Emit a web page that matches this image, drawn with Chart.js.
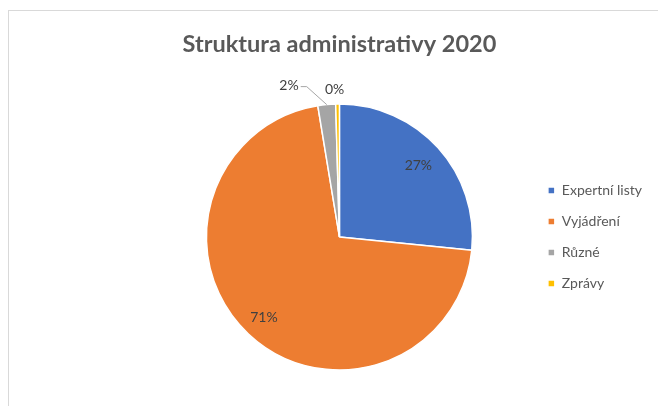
<!DOCTYPE html>
<html>
<head>
<meta charset="utf-8">
<script src="https://cdn.jsdelivr.net/npm/chart.js@4.4.0/dist/chart.umd.min.js"></script>
<style>
html,body{margin:0;padding:0;background:#fff;}
#wrap{width:658px;height:406px;position:relative;}
</style>
</head>
<body>
<div id="wrap"><canvas id="c"></canvas></div>
<script>
const titleText = 'Struktura administrativy 2020';
const categories = ['Expertní listy', 'Vyjádření', 'Různé', 'Zprávy'];
const values = [26.6, 70.8, 2.15, 0.45];
const colors = ['#4472C4', '#ED7D31', '#A5A5A5', '#FFC000'];

const framePlugin = {
  id: 'frame',
  beforeDraw(chart) {
    const ctx = chart.ctx;
    ctx.save();
    ctx.fillStyle = '#fff';
    ctx.fillRect(0, 0, chart.width, chart.height);
    ctx.strokeStyle = '#D9D9D9';
    ctx.lineWidth = 1;
    ctx.strokeRect(8.5, 10.5, 800, 600);
    ctx.restore();
  }
};

const labelPlugin = {
  id: 'sliceLabels',
  afterDatasetsDraw(chart, args, opts) {
    const ctx = chart.ctx;
    const meta = chart.getDatasetMeta(0);
    const data = chart.data.datasets[0].data;
    const total = data.reduce((a, b) => a + b, 0);
    ctx.save();
    ctx.font = opts.font;
    ctx.fillStyle = opts.color;
    ctx.textBaseline = 'middle';
    meta.data.forEach((arc, i) => {
      const p = arc.getProps(['x', 'y', 'startAngle', 'endAngle', 'outerRadius'], true);
      const mid = (p.startAngle + p.endAngle) / 2;
      const txt = Math.round(data[i] / total * 100) + '%';
      const pl = opts.placements[i];
      if (pl.inside) {
        const r = p.outerRadius * pl.r;
        ctx.textAlign = 'center';
        ctx.fillText(txt, p.x + Math.cos(mid) * r, p.y + Math.sin(mid) * r);
      } else {
        const ax = p.x + Math.cos(mid) * p.outerRadius;
        const ay = p.y + Math.sin(mid) * p.outerRadius;
        if (pl.leader) {
          ctx.save();
          ctx.strokeStyle = '#A6A6A6';
          ctx.lineWidth = 1;
          ctx.beginPath();
          ctx.moveTo(ax, ay);
          ctx.lineTo(ax + pl.leader[0], ay + pl.leader[1]);
          ctx.lineTo(ax + pl.leader[2], ay + pl.leader[1]);
          ctx.stroke();
          ctx.restore();
        }
        ctx.textAlign = pl.align;
        ctx.fillText(txt, ax + pl.dx, ay + pl.dy);
      }
    });
    ctx.restore();
  }
};

new Chart(document.getElementById('c'), {
  type: 'pie',
  data: {
    labels: categories,
    datasets: [{
      data: values,
      backgroundColor: colors,
      borderColor: '#fff',
      borderWidth: 1.5,
      radius: 133
    }]
  },
  options: {
    responsive: true,
    maintainAspectRatio: false,
    animation: false,
    layout: { padding: { left: 148, right: 6, top: 0, bottom: 16 } },
    plugins: {
      title: {
        display: true,
        fullSize: false,
        text: titleText,
        color: '#595959',
        font: { family: 'Lato', size: 23.5, weight: 'bold' },
        padding: { top: 30, bottom: 25.8 }
      },
      legend: {
        position: 'right',
        fullSize: false,
        labels: {
          boxWidth: 7,
          boxHeight: 7,
          padding: 17,
          color: '#595959',
          font: { family: 'Lato', size: 14 }
        }
      },
      tooltip: { enabled: false },
      sliceLabels: {
        font: '14px Lato',
        color: '#404040',
        placements: [
          { inside: true, r: 0.8 },
          { inside: true, r: 0.83 },
          { inside: false, leader: [-20, -18, -26], dx: -28, dy: -19, align: 'right' },
          { inside: false, dx: -3, dy: -15, align: 'center' }
        ]
      }
    }
  },
  plugins: [framePlugin, labelPlugin]
});
</script>
</body>
</html>
